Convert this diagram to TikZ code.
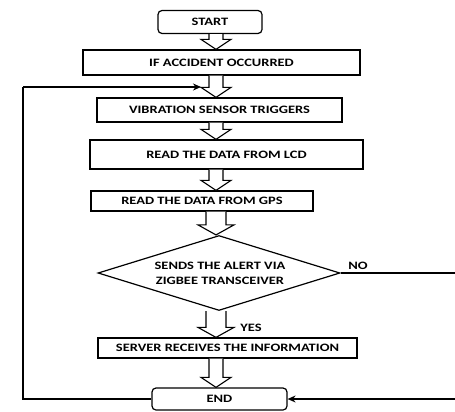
\documentclass[tikz,border=0pt]{standalone}
\usepackage{fontspec}
\setmainfont{Carlito}[FakeStretch=1.28]
\usetikzlibrary{calc,shapes.geometric,arrows.meta}
\newcommand\hollowarrow[3][7]{%
  \path let \p1=(#2.south), \p2=(#3.north) in
    [draw=black,fill=white,line width=1.1pt,line join=miter]
    (216pt-#1pt,\y1) -- (216pt-#1pt,\y2+10pt) -- (216pt-#1pt-8pt,\y2+10pt) -- (216pt,\y2)
    -- (216pt+#1pt+8pt,\y2+10pt) -- (216pt+#1pt,\y2+10pt) -- (216pt+#1pt,\y1);}
\begin{document}
\begin{tikzpicture}[x=1pt,y=-1pt,
  txt/.style={font=\bfseries\fontsize{11.3}{15}\selectfont},
  box/.style={txt,draw,line width=1.2pt,inner sep=0pt,fill=white},
  rbox/.style={box,rounded corners=4pt},
  link/.style={line width=1.4pt,-{Stealth[length=8pt,width=7pt]}}]
\clip (0,0) rectangle (455,412);
\fill[white] (0,0) rectangle (455,412);
\node[rbox,minimum width=104pt,minimum height=23pt] (start) at (210,22) {START};
\node[box,minimum width=277pt,minimum height=25pt] (acc) at (221.5,62.5) {IF ACCIDENT OCCURRED};
\node[box,minimum width=245pt,minimum height=24pt] (vib) at (219.5,110) {VIBRATION SENSOR TRIGGERS};
\node[box,minimum width=273pt,minimum height=29pt] (lcd) at (226.5,154.5) {READ THE DATA FROM LCD};
\node[box,minimum width=222pt,minimum height=20pt] (gps) at (202,201) {READ THE DATA FROM GPS};
\node[box,shape=diamond,minimum width=242pt,minimum height=75pt] (dec) at (219,273) {};
\node[txt,align=center] (dectext) at (220,273.5) {SENDS THE ALERT VIA\\ZIGBEE TRANSCEIVER};
\node[box,minimum width=259pt,minimum height=20pt] (srv) at (227.5,348) {SERVER RECEIVES THE INFORMATION};
\node[rbox,minimum width=135pt,minimum height=22pt] (end) at (219.5,399) {END};
\node[txt] (no) at (358,266) {NO};
\node[txt] (yes) at (251,328) {YES};
\hollowarrow{start}{acc}
\hollowarrow{acc}{vib}
\hollowarrow{vib}{lcd}
\hollowarrow{lcd}{gps}
\hollowarrow[10]{gps}{dec}
\hollowarrow[10]{dec}{srv}
\hollowarrow{srv}{end}
\coordinate (loopin) at (201,87);
\coordinate (loopcorner) at (23,87);
\coordinate (farright) at (470,273);
\draw[line width=1.4pt] (end.west) -| (loopcorner);
\draw[link] (loopcorner) -- (loopin);
\draw[link] (dec.east) -- (farright) |- (end.east);
\end{tikzpicture}
\end{document}
